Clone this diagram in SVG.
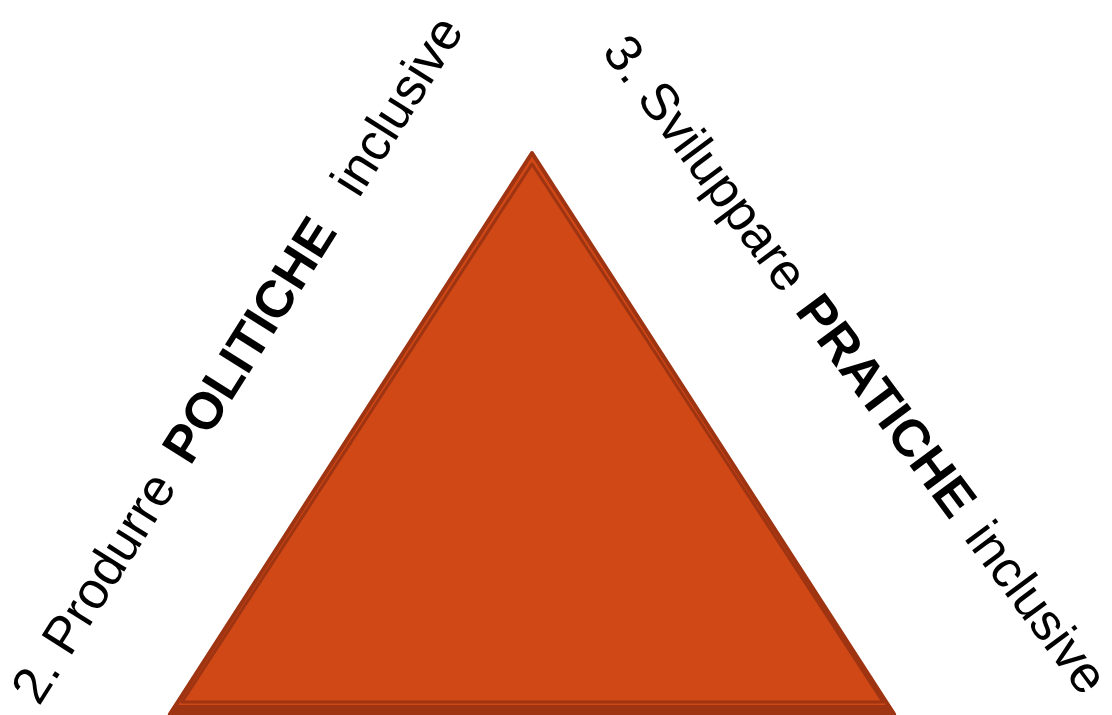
<svg xmlns="http://www.w3.org/2000/svg" width="1112" height="715" viewBox="0 0 1112 715">
<style>
.lbl{font-family:"Liberation Sans",Arial,sans-serif;font-size:52px;fill:#000}
.b{font-weight:bold}
.edge{stroke:#9E3411;stroke-linejoin:round}
</style>
<rect width="1112" height="715" fill="#fff"/>
<g id="triangle">
<polygon class="edge" points="532,153 170,714 894,714" fill="#D14817" stroke-width="4"/>
<polygon points="174,705 890,705 897,716 167,716" fill="#9E3411"/>
<polygon class="edge" points="532,164 182,702 883,702" fill="#D14817" stroke-width="3"/>
</g>
<g id="label-left" transform="translate(39,707) rotate(-57.8)">
<text class="lbl" y="0"><tspan x="0">2. Produrre</tspan><tspan x="284" class="b">POLITICHE</tspan><tspan x="600">inclusive</tspan></text>
</g>
<g id="label-right" transform="translate(601,52) rotate(53.3)">
<text class="lbl" y="0"><tspan x="0">3. Sviluppare</tspan><tspan x="323" class="b">PRATICHE</tspan><tspan x="606">inclusive</tspan></text>
</g>
</svg>
